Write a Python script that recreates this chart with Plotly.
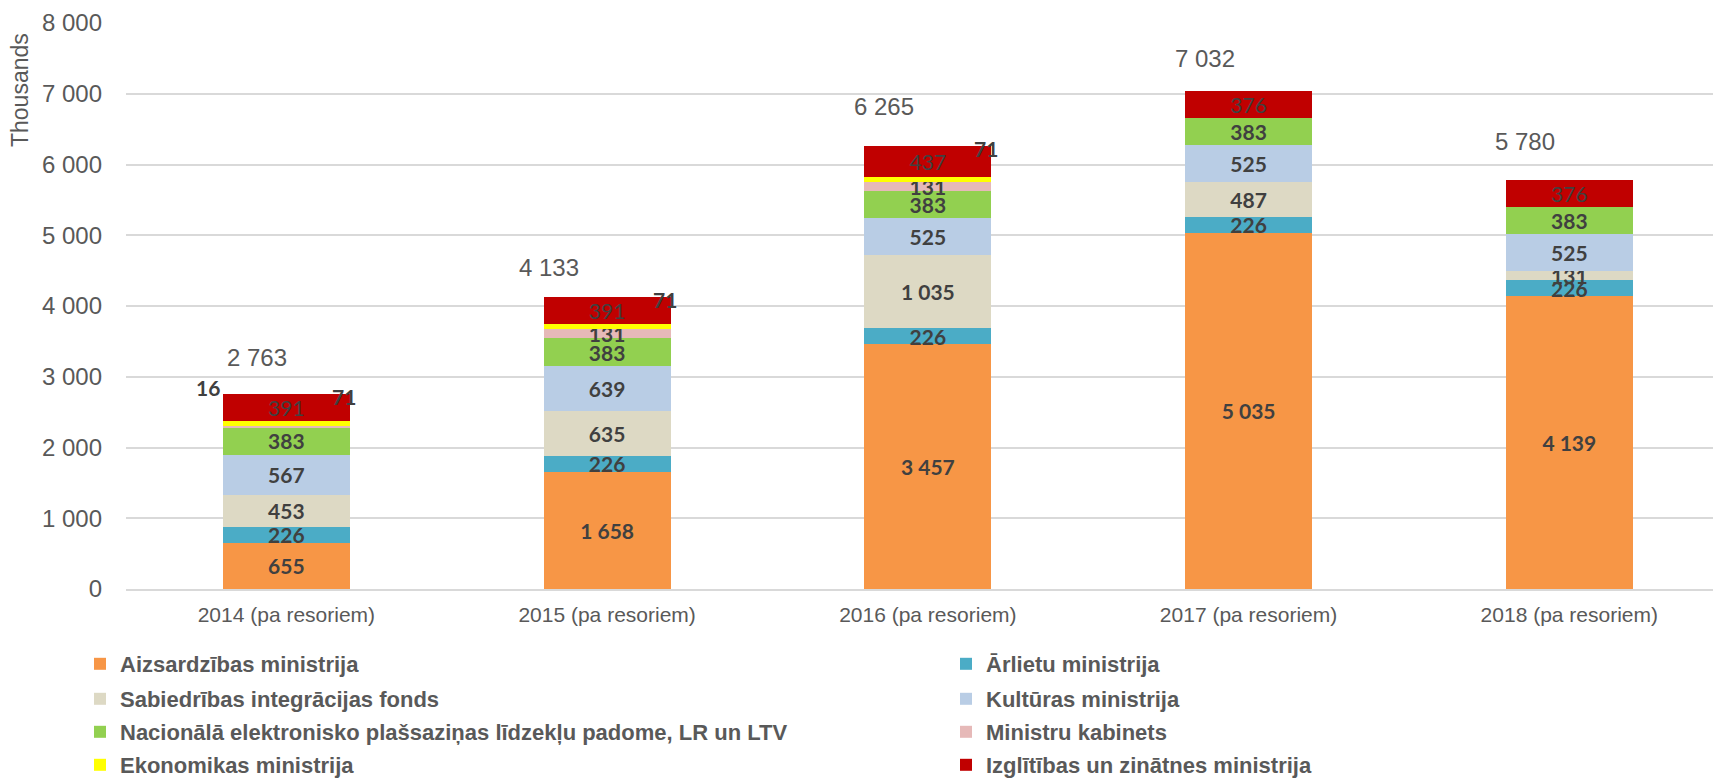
import plotly.graph_objects as go

categories = ["2014 (pa resoriem)", "2015 (pa resoriem)", "2016 (pa resoriem)",
              "2017 (pa resoriem)", "2018 (pa resoriem)"]

aizsardzibas = [655, 1658, 3457, 5035, 4139]
arlietu = [226, 226, 226, 226, 226]
sabiedribas = [453, 635, 1035, 487, 131]
kulturas = [567, 639, 525, 525, 525]
nacionala = [383, 383, 383, 383, 383]
ministru_kabinets = [16, 131, 131, 0, 0]
ekonomikas = [71, 71, 71, 0, 0]
izglitibas = [391, 391, 437, 376, 376]

totals = [2763, 4133, 6265, 7032, 5780]

series = [
    ("Aizsardzības ministrija", aizsardzibas, "#F79646"),
    ("Ārlietu ministrija", arlietu, "#4BACC6"),
    ("Sabiedrības integrācijas fonds", sabiedribas, "#DDD9C4"),
    ("Kultūras ministrija", kulturas, "#B9CDE5"),
    ("Nacionālā elektronisko plašsaziņas līdzekļu padome, LR un LTV", nacionala, "#92D050"),
    ("Ministru kabinets", ministru_kabinets, "#E6B9B8"),
    ("Ekonomikas ministrija", ekonomikas, "#FFFF00"),
    ("Izglītības un zinātnes ministrija", izglitibas, "#C00000"),
]

# style: small-value labels drawn outside the bar, side per series
outside_side = {"Ministru kabinets": "left", "Ekonomikas ministrija": "right"}
# style: pixel offsets of the total labels (as placed in the reference)
total_label_dx = [-29, -58, -44, -44, -44]
total_label_dy = [36, 29, 39, 33, 39]
# style: legend grid (2 columns x 4 rows), pixel positions in the figure
legend_col_x = [80, 946]
legend_row_y = [664, 699, 732, 765]


def fmt(v):
    return f"{v:,}".replace(",", " ")


LABEL_FONT = "Lato"
LABEL_COLOR = "#404040"
W, H = 1713, 780

legend_font = dict(family="Liberation Sans", size=22, color="#595959", weight="bold")

fig = go.Figure()
legend_layouts = {}
for k, (name, vals, color) in enumerate(series):
    texts = [fmt(v) if v >= 100 else "" for v in vals]
    weight = "normal" if color == "#C00000" else "bold"
    legend_id = "legend" if k == 0 else f"legend{k + 1}"
    fig.add_trace(go.Bar(
        name=name, x=categories, y=vals, marker_color=color,
        marker_line_width=0,
        text=texts, textposition="inside", insidetextanchor="middle",
        textangle=0, constraintext="none",
        insidetextfont=dict(family=LABEL_FONT, size=21, color=LABEL_COLOR, weight=weight),
        legend=legend_id,
        hoverinfo="skip",
    ))
    row, col = divmod(k, 2)
    legend_layouts[legend_id] = dict(
        x=legend_col_x[col] / W, y=1 - legend_row_y[row] / H,
        xref="container", yref="container",
        xanchor="left", yanchor="middle",
        font=legend_font, itemwidth=30, bgcolor="rgba(0,0,0,0)",
    )

stack_tops = [sum(s[1][i] for s in series) for i in range(len(categories))]

annotations = []
for i, cat in enumerate(categories):
    annotations.append(dict(
        x=cat, y=totals[i], xref="x", yref="y", text=fmt(totals[i]),
        showarrow=False, xshift=total_label_dx[i], yshift=total_label_dy[i],
        yanchor="middle",
        font=dict(family="Liberation Sans", size=24, color="#595959"),
    ))
    for name, vals, color in series:
        if name in outside_side and 0 < vals[i] < 100:
            side = outside_side[name]
            annotations.append(dict(
                x=cat, y=stack_tops[i], xref="x", yref="y", text=fmt(vals[i]),
                showarrow=False,
                xshift=-78 if side == "left" else 58,
                yshift=6 if side == "left" else -3,
                yanchor="middle",
                font=dict(family=LABEL_FONT, size=21, color=LABEL_COLOR, weight="bold"),
            ))

# y-axis title placed at the top of the axis, as in the reference
annotations.append(dict(
    x=0, y=0.8816, xref="paper", yref="paper", xshift=-106,
    text="Thousands", textangle=-90, showarrow=False,
    xanchor="center", yanchor="middle",
    font=dict(family="Liberation Sans", size=23, color="#595959"),
))

fig.update_layout(
    width=W, height=H,
    margin=dict(l=126, r=0, t=23, b=191, autoexpand=False),
    plot_bgcolor="white", paper_bgcolor="white",
    barmode="stack", bargap=0.604,
    separators=". ",
    font=dict(family="Liberation Sans", color="#595959"),
    annotations=annotations,
    showlegend=True,
    **legend_layouts,
)

fig.update_xaxes(
    type="category", range=[-0.5, 4.448], automargin=False,
    showline=True, linecolor="#d9d9d9", linewidth=2,
    ticks="", tickfont=dict(size=21, color="#595959"),
    ticklabelstandoff=6, showgrid=False,
)
fig.update_yaxes(
    range=[0, 8000], dtick=1000, tickformat=",d", automargin=False,
    showgrid=True, gridcolor="#d9d9d9", gridwidth=1.5,
    zeroline=False, showline=False, ticks="",
    tickfont=dict(size=24, color="#595959"),
    ticklabelstandoff=23,
)

fig.write_html(
    "out.html",
    config={"displayModeBar": False},
    post_script="document.body.style.margin='0';document.body.style.overflow='hidden';",
)
